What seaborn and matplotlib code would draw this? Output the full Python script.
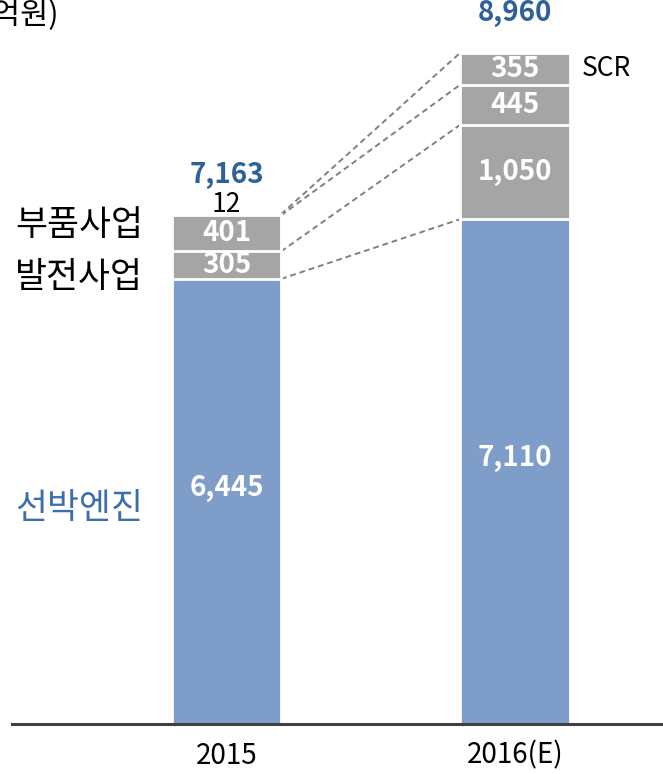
import numpy as np
import pandas as pd
import matplotlib
matplotlib.use("Agg")
import matplotlib.pyplot as plt
import seaborn as sns

# ---- data ----
years = ["2015", "2016(E)"]
segments = ["선박엔진", "발전사업", "부품사업", "SCR"]
ship_engine = [6445, 7110]
power = [305, 1050]
parts = [401, 445]
scr = [12, 355]
totals = [7163, 8960]
unit_label = "(단위: 억원)"

sns.set_theme(style="white")
plt.rcParams['font.family'] = ['Noto Sans CJK KR', 'DejaVu Sans']

BLUE = "#7F9DC9"
GREY = "#A5A5A5"
TOTAL_BLUE = "#2F6098"
LABEL_BLUE = "#3C6DAE"

fig = plt.figure(figsize=(6.63, 7.74), dpi=100)
ax = fig.add_axes([0.018, 0.0646, 0.982, 0.9354])

stack = np.array([ship_engine, power, parts, scr], dtype=float)
cum = np.cumsum(stack, axis=0)
df = pd.DataFrame({"year": years})

bar_w = 0.378
colors = [BLUE, GREY, GREY, GREY]
# draw from tallest cumulative to smallest so each segment shows
for i in range(len(segments) - 1, -1, -1):
    d = df.copy()
    d["val"] = cum[i]
    sns.barplot(data=d, x="year", y="val", color=colors[i], saturation=1,
                width=bar_w, edgecolor="white", linewidth=2, ax=ax, errorbar=None)

ax.set_xlim(-0.7435, 1.513)
ax.set_ylim(1500, 9544)
ax.set_ylabel("")
ax.set_xlabel("")
ax.set_yticks([])
for s in ["top", "left", "right"]:
    ax.spines[s].set_visible(False)
ax.spines["bottom"].set_color("#404040")
ax.spines["bottom"].set_linewidth(2.2)
ax.tick_params(axis="x", length=0, labelsize=20, pad=12, colors="black")

# dashed connectors
for i in range(len(segments)):
    ax.plot([0 + bar_w / 2, 1 - bar_w / 2], [cum[i][0], cum[i][1]],
            ls=(0, (3, 2)), color="#808080", lw=1.4, zorder=0.5)

# segment value labels
for j in range(2):
    bottoms = np.concatenate([[0], cum[:-1, j]])
    for i in range(len(segments)):
        v = stack[i, j]
        mid = bottoms[i] + v / 2
        if i == 0:
            mid = (ax.get_ylim()[0] + cum[0, j]) / 2 + 150
        if j == 0 and i == 3:
            ax.text(j, cum[i, j] + 110, f"{int(v):,}", ha="center", va="center",
                    fontsize=19, color="black", zorder=5)
        else:
            ax.text(j, mid, f"{int(v):,}", ha="center", va="center",
                    fontsize=20, fontweight="bold", color="white", zorder=5)
    ax.text(j, totals[j] + 440, f"{totals[j]:,}", ha="center", va="center",
            fontsize=20, fontweight="bold", color=TOTAL_BLUE)

# left side segment names (2015 bar)
left_x = -0.29
b0 = np.concatenate([[0], cum[:-1, 0]])
ax.text(left_x, (ax.get_ylim()[0] + cum[0, 0]) / 2 - 80, segments[0],
        ha="right", va="center", fontsize=25, color=LABEL_BLUE)
ax.text(left_x, b0[1] + stack[1, 0] / 2 - 140, segments[1], ha="right", va="center",
        fontsize=25, color="black")
ax.text(left_x, b0[2] + stack[2, 0] / 2 + 90, segments[2], ha="right", va="center",
        fontsize=25, color="black")
# SCR label next to 2016 bar
b1 = np.concatenate([[0], cum[:-1, 1]])
ax.text(1.23, b1[3] + stack[3, 1] / 2, segments[3], ha="left", va="center",
        fontsize=19, color="black")

# unit label (cut at figure left edge as in reference)
fig.text(0.088, 0.98, unit_label, ha="right", va="center", fontsize=22, color="black")

fig.savefig("out.png", dpi=100)
